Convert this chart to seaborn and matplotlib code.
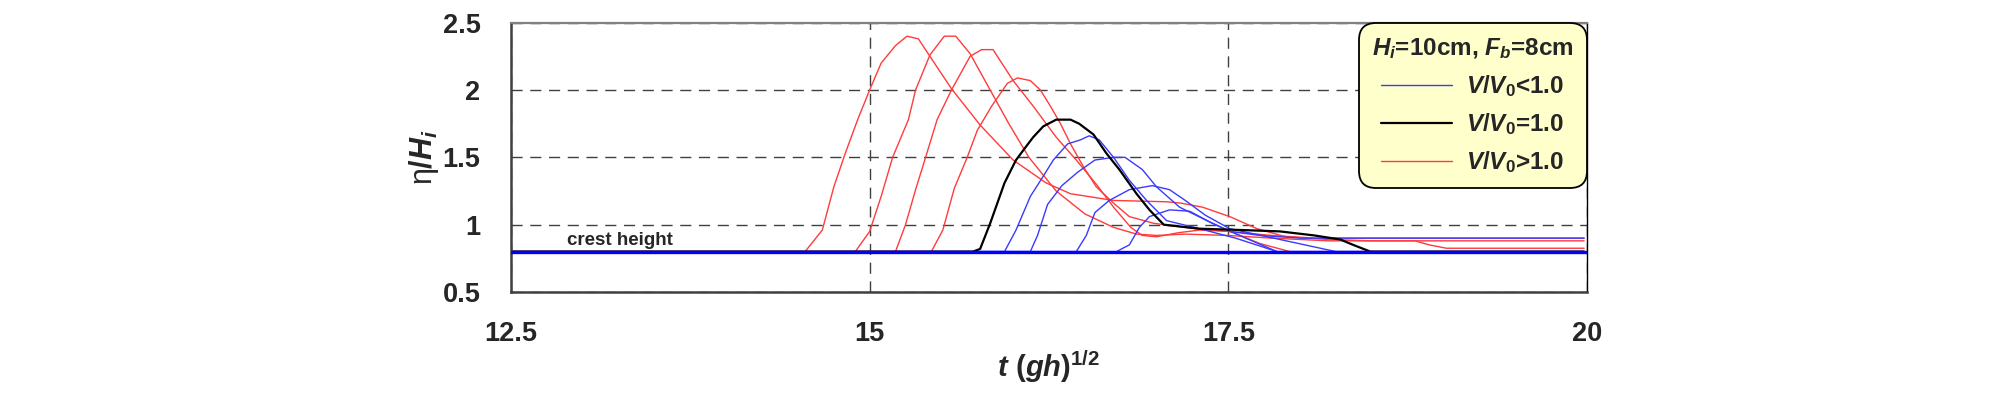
import matplotlib
matplotlib.use("Agg")
import matplotlib.pyplot as plt
import seaborn as sns
import pandas as pd
from matplotlib.lines import Line2D
from matplotlib.ticker import FuncFormatter

# wave runup records, eta/Hi against t(gh)^1/2
crest_t = [12.5, 20.0]
crest_eta = [0.8, 0.8]

red1_t = [12.5, 14.55, 14.67, 14.75, 14.83, 14.92, 15.00, 15.08, 15.18, 15.26, 15.34, 15.42, 15.57, 15.77,
          16.00, 16.23, 16.40, 16.70, 17.07, 17.17, 17.32, 17.51, 17.70, 17.90, 18.20, 18.50, 19.98]
red1_eta = [0.80, 0.80, 0.96, 1.28, 1.53, 1.79, 2.00, 2.20, 2.33, 2.40, 2.38, 2.25, 2.01, 1.74,
            1.48, 1.31, 1.23, 1.18, 1.17, 1.16, 1.13, 1.06, 0.97, 0.91, 0.89, 0.88, 0.88]

red2_t = [12.5, 14.90, 15.00, 15.08, 15.16, 15.27, 15.32, 15.42, 15.52, 15.60, 15.70, 15.84, 15.97, 16.11,
          16.30, 16.50, 16.70, 16.86, 17.00, 17.20, 17.50, 17.80, 18.20, 18.80, 18.90, 19.02, 19.98]
red2_eta = [0.80, 0.80, 0.95, 1.21, 1.50, 1.78, 2.00, 2.26, 2.40, 2.40, 2.27, 2.00, 1.75, 1.50,
            1.25, 1.08, 0.98, 0.93, 0.92, 0.93, 0.92, 0.90, 0.88, 0.88, 0.85, 0.825, 0.825]

red3_t = [12.5, 15.18, 15.25, 15.32, 15.39, 15.47, 15.57, 15.70, 15.78, 15.86, 16.00, 16.14, 16.30, 16.44,
          16.58, 16.70, 16.82, 16.90, 17.00, 17.15, 17.30, 17.50, 17.80, 18.10, 19.98]
red3_eta = [0.80, 0.80, 1.00, 1.26, 1.50, 1.78, 2.00, 2.25, 2.30, 2.30, 2.07, 1.88, 1.65, 1.48,
            1.30, 1.13, 0.98, 0.92, 0.91, 0.94, 0.96, 0.95, 0.92, 0.90, 0.90]

red4_t = [12.5, 15.43, 15.51, 15.59, 15.68, 15.75, 15.85, 15.96, 16.03, 16.12, 16.19, 16.26, 16.33, 16.40,
          16.49, 16.58, 16.70, 16.81, 16.98, 17.27, 17.51, 17.72, 17.93, 19.98]
red4_eta = [0.80, 0.80, 0.96, 1.27, 1.50, 1.70, 1.88, 2.05, 2.09, 2.07, 2.00, 1.88, 1.75, 1.60,
            1.43, 1.28, 1.16, 1.06, 1.01, 0.97, 0.95, 0.86, 0.80, 0.80]

black_t = [12.5, 15.72, 15.77, 15.84, 15.94, 16.02, 16.09, 16.14, 16.21, 16.30, 16.40, 16.46, 16.56, 16.65,
           16.74, 16.86, 16.95, 17.05, 17.30, 17.60, 17.86, 18.10, 18.28, 18.37, 18.49, 19.98]
black_eta = [0.80, 0.80, 0.82, 1.01, 1.31, 1.48, 1.58, 1.65, 1.73, 1.78, 1.78, 1.75, 1.67, 1.53,
             1.41, 1.23, 1.11, 1.00, 0.97, 0.96, 0.95, 0.92, 0.89, 0.85, 0.80, 0.80]

blue1_t = [12.5, 15.94, 16.02, 16.12, 16.21, 16.28, 16.38, 16.47, 16.53, 16.60, 16.70, 16.81, 16.93, 17.07,
           17.30, 17.55, 17.84, 19.98]
blue1_eta = [0.80, 0.80, 0.96, 1.21, 1.36, 1.48, 1.60, 1.63, 1.66, 1.63, 1.50, 1.33, 1.18, 1.03,
             0.97, 0.90, 0.80, 0.80]

blue2_t = [12.5, 16.12, 16.17, 16.24, 16.34, 16.45, 16.57, 16.70, 16.78, 16.90, 17.00, 17.16, 17.39, 17.60,
           17.84, 19.98]
blue2_eta = [0.80, 0.80, 0.92, 1.15, 1.29, 1.39, 1.48, 1.50, 1.50, 1.41, 1.28, 1.13, 1.01, 0.91,
             0.80, 0.80]

blue3_t = [12.5, 16.44, 16.51, 16.57, 16.67, 16.81, 16.97, 17.09, 17.20, 17.34, 17.51, 17.86, 18.25, 19.98]
blue3_eta = [0.80, 0.80, 0.92, 1.09, 1.18, 1.26, 1.29, 1.26, 1.18, 1.07, 0.97, 0.89, 0.80, 0.80]

blue4_t = [12.5, 16.72, 16.81, 16.88, 16.95, 17.09, 17.23, 17.37, 17.51, 17.72, 18.00, 19.98]
blue4_eta = [0.80, 0.80, 0.85, 0.98, 1.06, 1.11, 1.10, 1.02, 0.95, 0.92, 0.90, 0.90]

x_ticks = [12.5, 15, 17.5, 20]
y_ticks = [0.5, 1.0, 1.5, 2.0, 2.5]

curves = {
    'red1': ('>1', red1_t, red1_eta), 'red2': ('>1', red2_t, red2_eta),
    'red3': ('>1', red3_t, red3_eta), 'red4': ('>1', red4_t, red4_eta),
    'black': ('=1', black_t, black_eta),
    'blue1': ('<1', blue1_t, blue1_eta), 'blue2': ('<1', blue2_t, blue2_eta),
    'blue3': ('<1', blue3_t, blue3_eta), 'blue4': ('<1', blue4_t, blue4_eta),
}
rows = []
for name, (grp, ts, es) in curves.items():
    for t, e in zip(ts, es):
        rows.append({'curve': name, 'group': grp, 't': t, 'eta': e})
df = pd.DataFrame(rows)

sns.set_style('white')
plt.rcParams['font.family'] = ['Liberation Sans', 'DejaVu Sans']
plt.rcParams['mathtext.fontset'] = 'custom'
plt.rcParams['mathtext.it'] = 'Liberation Sans:italic:bold'
plt.rcParams['mathtext.rm'] = 'Liberation Sans:bold'
plt.rcParams['mathtext.bf'] = 'Liberation Sans:bold'
plt.rcParams['mathtext.sf'] = 'Liberation Sans'

fig = plt.figure(figsize=(20.08, 3.95), dpi=100)
ax = fig.add_axes([511 / 2008, 1 - 292 / 395, 1076 / 2008, 269.3 / 395])

red = '#ff3b3b'
blue = '#3a3aff'
sns.lineplot(data=df[df.group == '>1'], x='t', y='eta', units='curve', estimator=None, sort=False,
             color=red, linewidth=1.0, ax=ax, legend=False)
sns.lineplot(data=df[df.group == '<1'], x='t', y='eta', units='curve', estimator=None, sort=False,
             color=blue, linewidth=1.0, ax=ax, legend=False)
sns.lineplot(data=df[df.group == '=1'], x='t', y='eta', units='curve', estimator=None, sort=False,
             color='black', linewidth=1.6, ax=ax, legend=False)
sns.lineplot(x=crest_t, y=crest_eta, color='#0000ff', linewidth=2.4, ax=ax, zorder=5)

ax.set_xlim(12.5, 20)
ax.set_ylim(0.5, 2.5)
ax.set_xticks(x_ticks)
ax.set_yticks(y_ticks)
fmt = FuncFormatter(lambda v, p: '%g' % v)
ax.xaxis.set_major_formatter(fmt)
ax.yaxis.set_major_formatter(fmt)
ax.grid(True, color='#404040', linestyle=(0, (8, 5.5)), linewidth=1.0)
ax.set_axisbelow(True)

for side in ['left', 'bottom']:
    ax.spines[side].set_color('#404040')
    ax.spines[side].set_linewidth(1.8)
ax.spines['top'].set_color('#808080')
ax.spines['top'].set_linewidth(1.6)
ax.spines['right'].set_color('black')
ax.spines['right'].set_linewidth(1.0)

ax.tick_params(axis='x', direction='out', length=8, width=1.5, color='#404040', labelsize=19.5, pad=13)
ax.tick_params(axis='y', direction='out', length=9, width=1.5, color='#404040', labelsize=19.5, pad=13)
for lab in ax.get_xticklabels() + ax.get_yticklabels():
    lab.set_fontweight('bold')

ax.set_xlabel(r'$\mathit{t\ (gh)}^{1/2}$', fontsize=21, labelpad=1)
ax.set_ylabel(r'$\mathsf{\eta}/\mathit{H_i}$', fontsize=22, labelpad=1)

ax.text(12.89, 0.885, 'crest height', fontsize=13.5, fontweight='bold', va='center', ha='left')

handles = [Line2D([], [], color=blue, linewidth=1.0),
           Line2D([], [], color='black', linewidth=1.6),
           Line2D([], [], color=red, linewidth=1.0)]
labels = [r'$V/V_0$<1.0', r'$V/V_0$=1.0', r'$V/V_0$>1.0']
leg = ax.legend(handles, labels, title=r'$H_i$=10cm, $F_b$=8cm', loc='upper right',
                bbox_to_anchor=(1.0, 1.0), borderaxespad=0, fontsize=17.5, title_fontsize=17.5,
                handlelength=2.9, handletextpad=0.6, labelspacing=0.5, borderpad=0.55,
                frameon=True, fancybox=True, facecolor='#ffffcc', edgecolor='black', framealpha=1)
leg.get_frame().set_boxstyle('round', pad=0, rounding_size=0.7)
leg.get_frame().set_linewidth(1.3)
leg.get_title().set_fontweight('bold')
for txt in leg.get_texts():
    txt.set_fontweight('bold')
leg.set_zorder(10)

fig.savefig('out.png', dpi=100)
